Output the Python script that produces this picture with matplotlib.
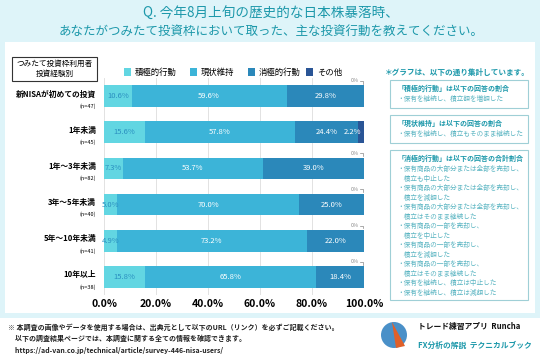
import matplotlib
matplotlib.use("Agg")
import matplotlib.pyplot as plt
from matplotlib.patches import Rectangle, Ellipse, Polygon
import numpy as np

plt.rcParams['font.family'] = ['Noto Sans CJK JP', 'DejaVu Sans']

# --------------------------------------------------------
# Data
# --------------------------------------------------------

categories = [
    "新NISAが初めての投資",
    "1年未満",
    "1年～3年未満",
    "3年～5年未満",
    "5年～10年未満",
    "10年以上",
]
counts = ["(n=47)", "(n=45)", "(n=82)", "(n=40)", "(n=41)", "(n=38)"]

series = ["積極的行動", "現状維持", "消極的行動", "その他"]
active = [10.6, 15.6, 7.3, 5.0, 4.9, 15.8]
keep = [59.6, 57.8, 53.7, 70.0, 73.2, 65.8]
passive = [29.8, 24.4, 39.0, 25.0, 22.0, 18.4]
other = [0.0, 2.2, 0.0, 0.0, 0.0, 0.0]

xticks = [0, 20, 40, 60, 80, 100]
xtick_labels = ["0.0%", "20.0%", "40.0%", "60.0%", "80.0%", "100.0%"]

colors = ["#62d6e2", "#3cb4d8", "#2b88ba", "#2a5596"]
TEAL = "#1c98aa"

notes = [
    ("「積極的行動」は以下の回答の割合",
     ["・保有を継続し、積立額を増額した"]),
    ("「現状維持」は以下の回答の割合",
     ["・保有を継続し、積立もそのまま継続した"]),
    ("「消極的行動」は以下の回答の合計割合",
     ["・保有商品の大部分または全部を売却し、", "　積立も中止した",
      "・保有商品の大部分または全部を売却し、", "　積立を減額した",
      "・保有商品の大部分または全部を売却し、", "　積立はそのまま継続した",
      "・保有商品の一部を売却し、", "　積立を中止した",
      "・保有商品の一部を売却し、", "　積立を減額した",
      "・保有商品の一部を売却し、", "　積立はそのまま継続した",
      "・保有を継続し、積立は中止した",
      "・保有を継続し、積立は減額した"]),
]

# --------------------------------------------------------
# Figure / background
# --------------------------------------------------------

W, H = 540, 360
fig = plt.figure(figsize=(5.4, 3.6), dpi=100)
fig.patch.set_facecolor("white")


def px(x, y):
    return x / W, 1 - y / H


def rect(x0, y0, x1, y1, **kw):
    fig.add_artist(Rectangle((x0 / W, 1 - y1 / H), (x1 - x0) / W, (y1 - y0) / H,
                             transform=fig.transFigure, **kw))


rect(0, 0, 540, 318, facecolor="#def4f9", edgecolor="none", zorder=0)
rect(5, 42, 535, 313, facecolor="white", edgecolor="none", zorder=0)

fig.text(*px(271, 14), "Q. 今年8月上旬の歴史的な日本株暴落時、", ha="center", va="center",
         fontsize=9.8, color=TEAL)
fig.text(*px(271, 31), "あなたがつみたて投資枠において取った、主な投資行動を教えてください。",
         ha="center", va="center", fontsize=9, color=TEAL)

# --------------------------------------------------------
# Bars
# --------------------------------------------------------

ax = fig.add_axes([104 / W, 1 - 295 / H, 260 / W, 217 / H])
ax.set_facecolor("none")
y = np.arange(len(categories))
left = np.zeros(len(categories))
for vals, c, name in zip([active, keep, passive, other], colors, series):
    ax.barh(y, vals, left=left, height=0.6, color=c, zorder=2, label=name)
    for i, v in enumerate(vals):
        if v <= 0:
            continue
        cx = left[i] + v / 2
        tc = "white"
        if c == colors[0]:
            tc = "#2a8fc0"
        if c == colors[3]:
            cx = 95.5
        ax.text(cx, i, f"{v:.1f}%", ha="center", va="center", fontsize=5.5,
                color=tc, zorder=3)
    left = left + np.array(vals)

for i, v in enumerate(other):
    if v == 0:
        ax.text(98.2, i - 0.42, "0%", ha="right", va="center", fontsize=4,
                color="#888888", zorder=3)
        ax.plot([98.4, 99.8, 99.8], [i - 0.42, i - 0.42, i - 0.34],
                color="#888888", lw=0.5, zorder=3, clip_on=False)

ax.set_xlim(0, 100)
ax.set_ylim(len(categories) - 0.5, -0.5)
ax.set_xticks(xticks)
ax.set_xticklabels(xtick_labels, fontsize=7.5, fontweight="bold")
ax.set_yticks([])
ax.tick_params(axis="x", length=0, pad=3)
ax.grid(axis="x", color="#dddddd", lw=0.6, zorder=0)
for s in ax.spines.values():
    s.set_visible(False)

for i, (cat, n) in enumerate(zip(categories, counts)):
    ax.text(-3, i - 0.06, cat, ha="right", va="center", fontsize=5.6,
            fontweight="bold", clip_on=False)
    ax.text(-3, i + 0.28, n, ha="right", va="center", fontsize=4,
            clip_on=False)

# header box
fig.text(*px(55, 64), "つみたて投資枠利用者", ha="center", va="center", fontsize=5.5)
fig.text(*px(55, 74), "投資経験別", ha="center", va="center", fontsize=5.5)
rect(12, 57, 97, 81, facecolor="none", edgecolor="#333333", lw=0.8, zorder=1)

# legend
for x0, name, c in zip([124, 190, 248, 306], series, colors):
    rect(x0, 68, x0 + 7, 76, facecolor=c, edgecolor="none", zorder=1)
    fig.text(*px(x0 + 11, 72), name, ha="left", va="center", fontsize=6)

# --------------------------------------------------------
# Notes panel
# --------------------------------------------------------

fig.text(*px(385, 72), "＊グラフは、以下の通り集計しています。", ha="left", va="center",
         fontsize=5.5, color=TEAL, fontweight="bold")
box_tops = [80, 115, 150]
box_bottoms = [108, 143, 300]
for (head, items), t, b in zip(notes, box_tops, box_bottoms):
    rect(390, t, 528, b, facecolor="white", edgecolor="#9fcfd6", lw=0.8, zorder=1)
    fig.text(*px(398, t + 8), head, ha="left", va="center", fontsize=5,
             color=TEAL, fontweight="bold")
    for k, line in enumerate(items):
        fig.text(*px(397, t + 19 + k * 9.5), line, ha="left", va="center",
                 fontsize=4.8, color="#5bb5c2")

# --------------------------------------------------------
# Footer
# --------------------------------------------------------

footer = [
    "※ 本調査の画像やデータを使用する場合は、出典元として以下のURL（リンク）を必ずご記載ください。",
    "　以下の調査結果ページでは、本調査に関する全ての情報を確認できます。",
    "　https://ad-van.co.jp/technical/article/survey-446-nisa-users/",
]
for k, line in enumerate(footer):
    fig.text(*px(8, 327 + k * 11.5), line, ha="left", va="center", fontsize=5,
             fontweight="bold", color="#222222")

fig.add_artist(Ellipse(px(394, 335), 26 / W, 26 / H, transform=fig.transFigure,
                       facecolor="#4a90c8", edgecolor="none"))
fig.add_artist(Polygon([px(392, 322), px(396, 348), px(405, 346)], closed=True,
                       transform=fig.transFigure, facecolor="#e0602a",
                       edgecolor="none"))
fig.text(*px(418, 326), "トレード練習アプリ  Runcha", ha="left", va="center",
         fontsize=5.6, fontweight="bold", color="#111111")
fig.text(*px(418, 345), "FX分析の解説  テクニカルブック", ha="left", va="center",
         fontsize=5.6, fontweight="bold", color=TEAL)

fig.savefig("out.png", dpi=100)
